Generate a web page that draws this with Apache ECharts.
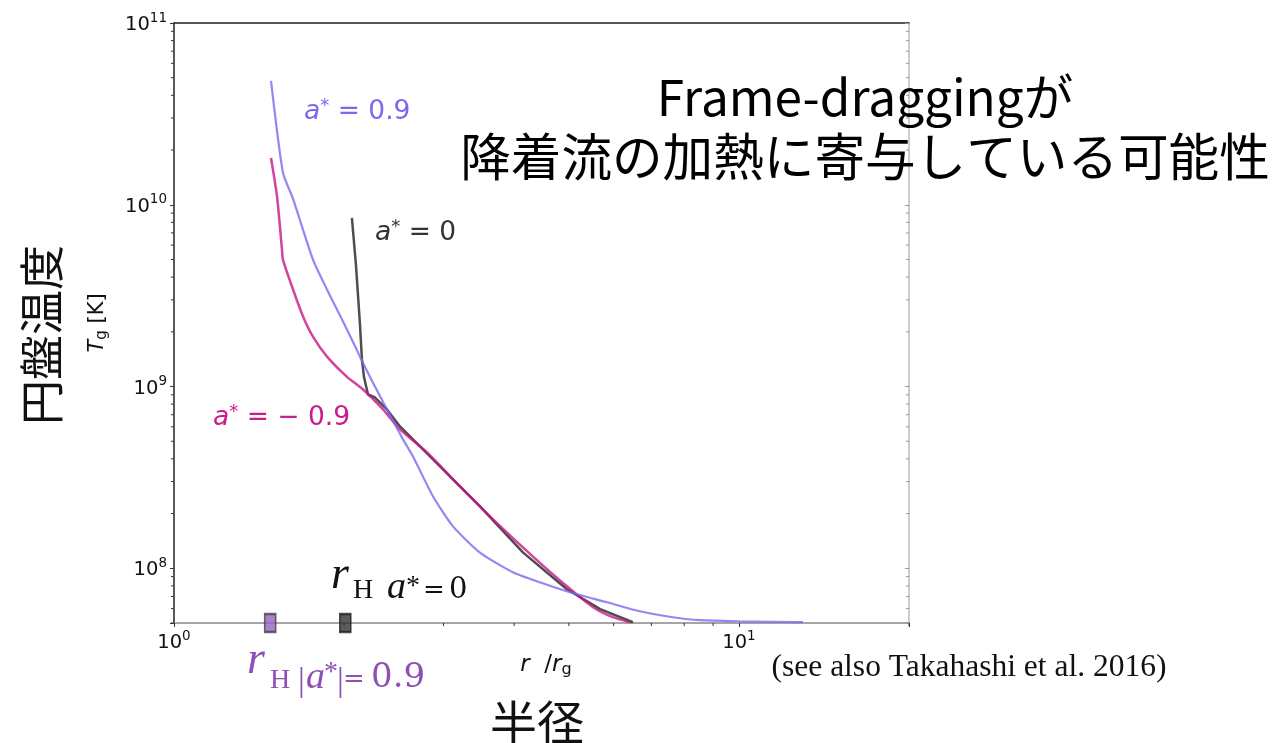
<!DOCTYPE html>
<html>
<head>
<meta charset="utf-8">
<script src="https://cdn.jsdelivr.net/npm/echarts@6/dist/echarts.min.js"></script>
<style>
html,body{margin:0;padding:0;background:#fff;}
#chart{width:1274px;height:743px;}
</style>
</head>
<body>
<div id="chart"></div>
<script>
// Disc gas temperature T_g [K] against radius r / r_g for three black-hole spins
const spinPlus09 = [
  [1.485, 4.80e10], [1.559, 1.50e10], [1.624, 1.08e10],
  [1.762, 4.99e9], [1.866, 3.41e9], [2.024, 2.06e9], [2.134, 1.46e9],
  [2.250, 1.05e9], [2.382, 7.48e8], [2.543, 5.12e8], [2.649, 4.12e8],
  [2.873, 2.49e8], [3.118, 1.70e8], [3.48, 1.22e8], [3.98, 9.5e7],
  [4.44, 8.37e7], [5.02, 7.38e7], [5.84, 6.50e7], [6.68, 5.80e7],
  [7.64, 5.38e7], [8.53, 5.18e7], [10.04, 5.11e7], [12.98, 5.05e7]
];
const spinZero = [
  [2.065, 8.48e9], [2.099, 4.68e9], [2.133, 2.25e9], [2.151, 1.41e9],
  [2.169, 1.13e9], [2.205, 9.04e8], [2.269, 8.70e8], [2.382, 7.48e8],
  [2.512, 6.03e8], [2.649, 5.12e8], [2.993, 3.50e8], [3.48, 2.19e8],
  [4.15, 1.22e8], [4.96, 7.67e7], [5.68, 5.96e7], [6.49, 5.05e7]
];
const spinMinus09 = [
  [1.485, 1.81e10], [1.522, 1.11e10], [1.553, 5.66e9], [1.559, 4.99e9],
  [1.618, 3.54e9], [1.692, 2.43e9], [1.762, 1.88e9], [1.866, 1.46e9],
  [2.024, 1.13e9], [2.161, 9.63e8], [2.344, 7.48e8], [2.512, 5.81e8],
  [2.804, 4.34e8], [3.208, 2.82e8], [3.67, 1.86e8], [4.32, 1.16e8],
  [4.96, 7.96e7], [5.52, 6.11e7], [5.98, 5.38e7], [6.41, 5.05e7]
];
// event-horizon radii marked on the r axis
const horizonSpin09 = 1.48;
const horizonSpin0 = 2.01;

const xRange = [1, 20];
const yRange = [5e7, 1e11];
const superscripts = { 0: '0', 1: '1', 8: '8', 9: '9', 10: '10', 11: '11' };

// minor ticks of the log axes: 2..9 times each decade inside the range
function minorTicks(lo, hi) {
  const out = [];
  for (let e = Math.floor(Math.log10(lo)); e <= Math.ceil(Math.log10(hi)); e++) {
    for (let m = 2; m <= 9; m++) {
      const v = m * Math.pow(10, e);
      if (v >= lo * 0.999 && v <= hi * 1.001) out.push(v);
    }
  }
  return out;
}
const xMinor = minorTicks(xRange[0], xRange[1]);
const yMinor = minorTicks(yRange[0], yRange[1]);

function powLabel(v) {
  const e = Math.round(Math.log10(v));
  if (Math.abs(Math.log10(v) - e) > 1e-6) return '';
  return '{b|10}{s|' + superscripts[e] + '}';
}
const powRich = {
  b: { fontFamily: 'DejaVu Sans', fontSize: 19.5, lineHeight: 24, color: '#111', verticalAlign: 'bottom' },
  s: { fontFamily: 'DejaVu Sans', fontSize: 13.5, lineHeight: 14, color: '#111', verticalAlign: 'top' }
};

function tickSeries(name, data, dx2, dy2, color) {
  return {
    type: 'custom', name: name, clip: false, silent: true, z: 5,
    data: data,
    renderItem: function (params, api) {
      const p = api.coord([api.value(0), api.value(1)]);
      return {
        type: 'line',
        shape: { x1: p[0], y1: p[1], x2: p[0] + dx2, y2: p[1] + dy2 },
        style: { stroke: color, lineWidth: 1 }
      };
    }
  };
}

const serif = '"Liberation Serif", "DejaVu Serif", serif';
const wideSerif = '"DejaVu Serif", serif';
const sans = '"DejaVu Sans", sans-serif';
const cjk = '"Noto Sans CJK JP", "Noto Sans CJK SC", sans-serif';

// one glyph run placed by its alphabetic baseline
function glyphs(x, baseline, text, size, color, italic, family) {
  return {
    type: 'text', x: x, y: baseline - 0.3 * size, z: 10,
    style: {
      text: text, fill: color, align: 'left', verticalAlign: 'middle',
      font: (italic ? 'italic ' : '') + size + 'px ' + (family || serif)
    }
  };
}
function spinLabel(x, y, value, color) {
  return {
    type: 'text', x: x, y: y, z: 10,
    style: {
      text: '{i|a}{s|*}{n| = ' + value + '}', align: 'left', verticalAlign: 'middle', fill: color,
      rich: {
        i: { fontFamily: sans, fontStyle: 'italic', fontSize: 26.5, lineHeight: 30, fill: color },
        s: { fontFamily: sans, fontSize: 18, lineHeight: 18, verticalAlign: 'top', fill: color },
        n: { fontFamily: sans, fontSize: 26.5, lineHeight: 30, fill: color }
      }
    }
  };
}

const horizonBlack = '#111';
const horizonPurple = '#8e50b4';

const chart = echarts.init(document.getElementById('chart'), null, { renderer: 'canvas' });

const option = {
  backgroundColor: '#fff',
  animation: false,
  grid: { left: 174, top: 23, width: 735, height: 600, containLabel: false },
  xAxis: [
    {
      type: 'log', logBase: 10, min: xRange[0], max: xRange[1], position: 'bottom',
      axisLine: { show: true, lineStyle: { color: '#888', width: 1.5 } },
      axisTick: { show: true, length: 4, lineStyle: { color: '#333' } },
      axisLabel: { formatter: powLabel, rich: powRich, margin: 6 },
      splitLine: { show: false }
    },
    {
      type: 'log', logBase: 10, min: xRange[0], max: xRange[1], position: 'top',
      axisLine: { show: true, lineStyle: { color: '#222', width: 1.5 } },
      axisTick: { show: false }, axisLabel: { show: false }, splitLine: { show: false }
    }
  ],
  yAxis: [
    {
      type: 'log', logBase: 10, min: yRange[0], max: yRange[1], position: 'left',
      axisLine: { show: true, lineStyle: { color: '#222', width: 1.5 } },
      axisTick: { show: true, length: 4, lineStyle: { color: '#333' } },
      axisLabel: { formatter: powLabel, rich: powRich, margin: 7 },
      splitLine: { show: false }
    },
    {
      type: 'log', logBase: 10, min: yRange[0], max: yRange[1], position: 'right',
      axisLine: { show: true, lineStyle: { color: '#bbb', width: 1.5 } },
      axisTick: { show: true, inside: true, length: 4, lineStyle: { color: '#999' } },
      axisLabel: { show: false }, splitLine: { show: false }
    }
  ],
  series: [
    tickSeries('xMinor', xMinor.map(v => [v, yRange[0]]), 0, 3, '#333'),
    tickSeries('yMinorL', yMinor.map(v => [xRange[0], v]), -3, 0, '#333'),
    tickSeries('yMinorR', yMinor.map(v => [xRange[1], v]), -3, 0, '#999'),
    {
      type: 'line', name: 'a*=0', data: spinZero, showSymbol: false, z: 3,
      lineStyle: { color: '#222', width: 2.5, opacity: 0.8 }
    },
    {
      type: 'line', name: 'a*=-0.9', data: spinMinus09, showSymbol: false, z: 3, smooth: 0.2,
      lineStyle: { color: '#c71585', width: 2.5, opacity: 0.8 }
    },
    {
      type: 'line', name: 'a*=0.9', data: spinPlus09, showSymbol: false, z: 3, smooth: 0.2,
      lineStyle: { color: '#7b68ee', width: 2.2, opacity: 0.8 }
    },
    {
      type: 'scatter', name: 'horizon', clip: false, z: 6,
      symbol: 'rect', symbolSize: [11, 18],
      data: [
        { value: [horizonSpin09, yRange[0]], itemStyle: { color: '#9462c2', borderColor: '#444', borderWidth: 2 } },
        { value: [horizonSpin0, yRange[0]], itemStyle: { color: '#333', borderColor: '#222', borderWidth: 2 } }
      ]
    }
  ],
  graphic: [
    // curve labels
    spinLabel(304, 112, '0.9', '#7b68ee'),
    spinLabel(375, 233, '0', '#333'),
    spinLabel(213, 418, '\u2212 0.9', '#cc1a88'),
    // horizon label, a* = 0
    glyphs(331, 590, 'r', 46, horizonBlack, true),
    glyphs(353, 599, 'H', 28, horizonBlack, false),
    glyphs(387, 599, 'a', 38, horizonBlack, true),
    glyphs(406, 595, '*', 28, horizonBlack, false),
    glyphs(423, 599, '=', 26, horizonBlack, false, wideSerif),
    glyphs(449, 599, '0', 29, horizonBlack, false, wideSerif),
    // horizon label, |a*| = 0.9
    glyphs(247, 675, 'r', 46, horizonPurple, true),
    glyphs(270, 689, 'H', 28, horizonPurple, false),
    glyphs(298, 692, '|', 34, horizonPurple, false),
    glyphs(306, 689, 'a', 38, horizonPurple, true),
    glyphs(324, 681, '*', 28, horizonPurple, false),
    glyphs(337, 692, '|', 34, horizonPurple, false),
    glyphs(343, 688, '=', 26, horizonPurple, false, wideSerif),
    glyphs(371, 688, '0.9', 34, horizonPurple, false, wideSerif),
    // axis titles
    {
      type: 'text', x: 546, y: 665, z: 10,
      style: {
        text: '{i|r}{n|  /}{i|r}{g|g}', align: 'center', verticalAlign: 'middle', fill: '#111',
        rich: {
          i: { fontFamily: sans, fontStyle: 'italic', fontSize: 23, lineHeight: 26, fill: '#111' },
          n: { fontFamily: sans, fontSize: 23, lineHeight: 26, fill: '#111' },
          g: { fontFamily: sans, fontSize: 16, lineHeight: 16, verticalAlign: 'bottom', fill: '#111' }
        }
      }
    },
    {
      type: 'text', x: 537, y: 722, z: 10,
      style: { text: '半径', font: '47px ' + cjk, fill: '#111', align: 'center', verticalAlign: 'middle' }
    },
    {
      type: 'text', x: 98, y: 323, rotation: Math.PI / 2, z: 10,
      style: {
        text: '{i|T}{g|g}{n| [K]}', align: 'center', verticalAlign: 'middle', fill: '#111',
        rich: {
          i: { fontFamily: sans, fontStyle: 'italic', fontSize: 21, lineHeight: 24, fill: '#111' },
          g: { fontFamily: sans, fontSize: 15, lineHeight: 15, verticalAlign: 'bottom', fill: '#111' },
          n: { fontFamily: sans, fontSize: 21, lineHeight: 24, fill: '#111' }
        }
      }
    },
    {
      type: 'text', x: 42, y: 335, rotation: Math.PI / 2, z: 10,
      style: { text: '円盤温度', font: '45px ' + cjk, fill: '#111', align: 'center', verticalAlign: 'middle' }
    },
    // headline
    {
      type: 'text', x: 865, y: 97, z: 10,
      style: { text: 'Frame-draggingが', font: '49.5px ' + cjk, fill: '#000', align: 'center', verticalAlign: 'middle' }
    },
    {
      type: 'text', x: 865, y: 157, z: 10,
      style: { text: '降着流の加熱に寄与している可能性', font: '50.6px ' + cjk, fill: '#000', align: 'center', verticalAlign: 'middle' }
    },
    {
      type: 'text', x: 969, y: 668, z: 10,
      style: { text: '(see also Takahashi et al. 2016)', font: '31.5px ' + serif, fill: '#111', align: 'center', verticalAlign: 'middle' }
    }
  ]
};
chart.setOption(option);
</script>
</body>
</html>
